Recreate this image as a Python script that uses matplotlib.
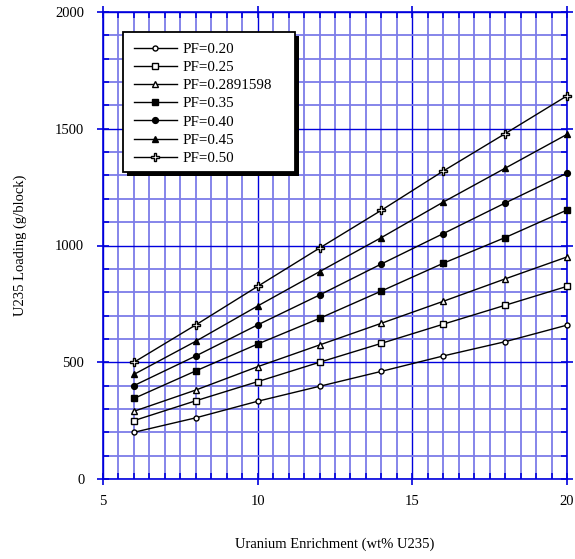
import matplotlib
matplotlib.use("Agg")
import matplotlib.pyplot as plt
from matplotlib.patches import Rectangle
from matplotlib.ticker import MultipleLocator

plt.rcParams['font.family'] = ['Liberation Serif', 'DejaVu Serif']

# Enrichment (wt% U235) sample points
enrichment = [6, 8, 10, 12, 14, 16, 18, 20]

# U235 loading (g/block) per packing fraction
pf_020 = [200, 262, 333, 397, 461, 527, 588, 659]
pf_025 = [250, 335, 417, 500, 581, 663, 744, 825]
pf_0289 = [290, 381, 481, 574, 667, 761, 857, 951]
pf_035 = [345, 463, 578, 688, 805, 924, 1034, 1152]
pf_040 = [400, 527, 660, 788, 921, 1051, 1182, 1310]
pf_045 = [448, 590, 741, 888, 1034, 1186, 1331, 1476]
pf_050 = [500, 660, 825, 989, 1151, 1319, 1479, 1641]

labels = ["PF=0.20", "PF=0.25", "PF=0.2891598", "PF=0.35",
          "PF=0.40", "PF=0.45", "PF=0.50"]
series = [pf_020, pf_025, pf_0289, pf_035, pf_040, pf_045, pf_050]

styles = [
    dict(marker='o', mfc='white', ms=3.6),
    dict(marker='s', mfc='white', ms=3.9),
    dict(marker='^', mfc='white', ms=3.8),
    dict(marker='s', mfc='black', ms=5.0),
    dict(marker='o', mfc='black', ms=4.2),
    dict(marker='^', mfc='black', ms=4.4),
    dict(marker='P', mfc='white', ms=6.0),
]

W, H = 575, 559
fig = plt.figure(figsize=(W / 100, H / 100), dpi=100)
ax = fig.add_axes([103 / W, 80 / H, 464 / W, 467 / H])

blue = '#0000dd'
ax.set_xlim(5, 20)
ax.set_ylim(0, 2000)
ax.xaxis.set_major_locator(MultipleLocator(5))
ax.xaxis.set_minor_locator(MultipleLocator(0.5))
ax.yaxis.set_major_locator(MultipleLocator(500))
ax.yaxis.set_minor_locator(MultipleLocator(100))

ax.grid(which='minor', color='#7c7ce8', lw=1.3, zorder=0)
ax.grid(which='major', color=blue, lw=1.0, zorder=0)
ax.set_axisbelow(True)

for sp in ax.spines.values():
    sp.set_color(blue)
    sp.set_linewidth(1.2)

ax.tick_params(which='major', direction='inout', length=9, width=1.2,
               color=blue, labelsize=10.5, top=True, right=True)
ax.tick_params(which='minor', direction='in', length=4, width=1.2,
               color=blue, top=True, right=True)
ax.tick_params(axis='x', which='major', pad=7)
ax.tick_params(axis='y', which='major', pad=9)

handles = []
for y, lab, st in zip(series, labels, styles):
    h, = ax.plot(enrichment, y, color='black', lw=1.0, mec='black',
                 mew=1.0, label=lab, zorder=3, clip_on=False, **st)
    handles.append(h)

ax.set_xlabel("Uranium Enrichment (wt% U235)", fontsize=10.5, labelpad=21)
ax.set_ylabel("U235 Loading (g/block)", fontsize=10.5, labelpad=20)

# Legend box with a solid drop shadow, in figure pixel units
bx0, by0, bx1, by1 = 123, 32, 295, 172
shadow = Rectangle((bx0 + 4, H - by1 - 4), bx1 - bx0, by1 - by0,
                   transform=None, facecolor='black', edgecolor='none',
                   zorder=5)
box = Rectangle((bx0, H - by1), bx1 - bx0, by1 - by0, transform=None,
                facecolor='white', edgecolor='black', lw=1.3, zorder=5.1)
fig.patches.extend([shadow, box])

leg = fig.legend(handles=handles, loc='upper left',
                 bbox_to_anchor=(bx0 / W, 1 - by0 / H),
                 bbox_transform=fig.transFigure,
                 fontsize=10.8, frameon=False,
                 handlelength=2.9, handletextpad=0.35, labelspacing=0.31,
                 borderpad=0.7, borderaxespad=0.0)
leg.set_zorder(6)

fig.savefig("out.png", dpi=100)
